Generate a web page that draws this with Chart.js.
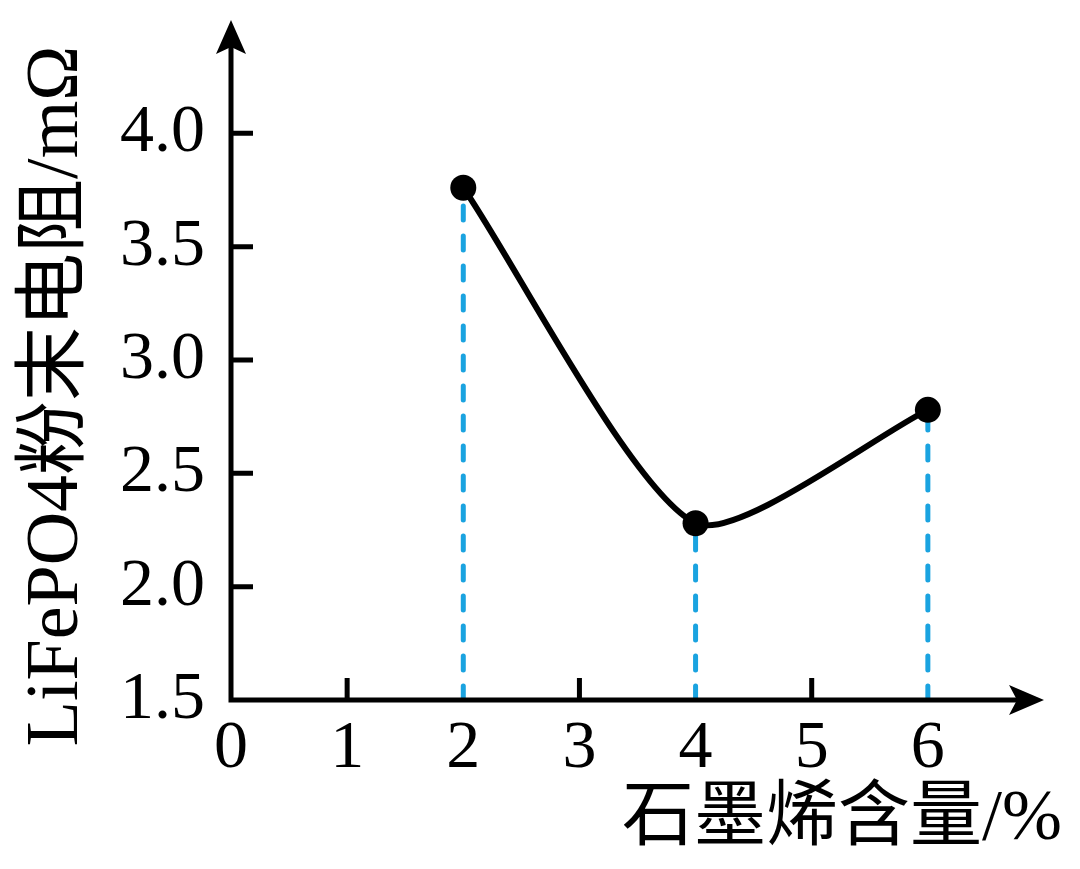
<!DOCTYPE html>
<html>
<head>
<meta charset="utf-8">
<script src="https://cdn.jsdelivr.net/npm/chart.js@4"></script>
<style>
  html, body { margin: 0; padding: 0; background: #fff; }
  #wrap { width: 1080px; height: 869px; }
</style>
</head>
<body>
<div id="wrap"><canvas id="chart"></canvas></div>
<script>
'use strict';

// 石墨烯含量 (%) 和 粉末电阻 (mΩ)
var content = [2, 4, 6];
var resistance = [3.76, 2.28, 2.78];

// 坐标轴刻度
var xTicks = [0, 1, 2, 3, 4, 5, 6];
var yTicks = [1.5, 2.0, 2.5, 3.0, 3.5, 4.0];
var xMarks = [1, 3, 5];          // 轴上的小刻度线 (2,4,6 被虚线盖住)
var yMarks = [2.0, 2.5, 3.0, 3.5, 4.0];

var xTitle = '石墨烯含量/%';
var yTitle = 'LiFePO4粉末电阻/mΩ';

var serif = '"Liberation Serif", "Noto Sans CJK SC", serif';

// 主曲线
var mainData = content.map(function (x, i) { return { x: x, y: resistance[i] }; });

// 每个点往下画虚线到x轴
var dropSets = content.map(function (x, i) {
	return {
		data: [{ x: x, y: yTicks[0] }, { x: x, y: resistance[i] }],
		borderColor: '#1aa3e0',
		borderWidth: 5,
		borderDash: [14, 16],
		borderCapStyle: 'round',
		pointRadius: 0,
		tension: 0,
		order: 2
	};
});

// 画坐标轴, 箭头, 刻度线, 轴标题
var axesPlugin = {
	id: 'axesPlugin',
	afterDraw: function (chart) {
		var ctx = chart.ctx;
		var xs = chart.scales.x;
		var ys = chart.scales.y;
		var x0 = xs.getPixelForValue(xTicks[0]);
		var y0 = ys.getPixelForValue(yTicks[0]);
		var top = chart.chartArea.top;
		var right = chart.chartArea.right;

		ctx.save();
		ctx.strokeStyle = '#000';
		ctx.fillStyle = '#000';
		ctx.lineWidth = 5;
		ctx.lineCap = 'butt';

		ctx.beginPath();
		ctx.moveTo(x0, y0 + 2.5);
		ctx.lineTo(x0, top + 25);
		ctx.moveTo(x0 - 2.5, y0);
		ctx.lineTo(right - 25, y0);
		ctx.stroke();

		// 小刻度线
		ctx.beginPath();
		xMarks.forEach(function (v) {
			var px = xs.getPixelForValue(v);
			ctx.moveTo(px, y0);
			ctx.lineTo(px, y0 - 22);
		});
		yMarks.forEach(function (v) {
			var py = ys.getPixelForValue(v);
			ctx.moveTo(x0, py);
			ctx.lineTo(x0 + 22, py);
		});
		ctx.stroke();

		// y轴箭头
		ctx.beginPath();
		ctx.moveTo(x0, top);
		ctx.lineTo(x0 + 15, top + 34);
		ctx.lineTo(x0, top + 27);
		ctx.lineTo(x0 - 15, top + 34);
		ctx.closePath();
		ctx.fill();

		// x轴箭头
		ctx.beginPath();
		ctx.moveTo(right, y0);
		ctx.lineTo(right - 35, y0 - 15);
		ctx.lineTo(right - 27, y0);
		ctx.lineTo(right - 35, y0 + 15);
		ctx.closePath();
		ctx.fill();

		// 轴标题
		ctx.font = '72px ' + serif;
		ctx.textAlign = 'right';
		ctx.textBaseline = 'middle';
		ctx.fillText(xTitle, 1062, 820);

		ctx.translate(58, 396);
		ctx.rotate(-Math.PI / 2);
		ctx.textAlign = 'center';
		ctx.font = '74px ' + serif;
		ctx.fillText(yTitle, 0, 0);
		ctx.restore();
	}
};

function noPad(s) {
	s.paddingTop = 0;
	s.paddingBottom = 0;
	s.paddingLeft = 0;
	s.paddingRight = 0;
}

window.onload = function () {
	var ctx = document.getElementById('chart');
	new Chart(ctx, {
		type: 'line',
		data: {
			datasets: [{
				data: mainData,
				borderColor: '#000',
				borderWidth: 6,
				tension: 0.22,
				pointRadius: 13,
				pointBorderWidth: 0,
				pointBackgroundColor: '#000',
				pointBorderColor: '#000',
				order: 1
			}].concat(dropSets)
		},
		options: {
			responsive: true,
			maintainAspectRatio: false,
			animation: false,
			events: [],
			layout: { padding: { top: 20, right: 36, left: 0, bottom: 0 } },
			plugins: {
				legend: { display: false },
				tooltip: { enabled: false }
			},
			scales: {
				x: {
					type: 'linear',
					min: 0,
					max: 7,
					afterBuildTicks: function (s) {
						s.ticks = xTicks.map(function (v) { return { value: v }; });
					},
					afterFit: function (s) { s.height = 169; noPad(s); },
					grid: { display: false, drawTicks: false },
					border: { display: false },
					ticks: {
						padding: 8,
						color: '#000',
						font: { family: serif, size: 68 },
						maxRotation: 0,
						callback: function (v) { return String(v); }
					}
				},
				y: {
					type: 'linear',
					min: 1.5,
					max: 4.5,
					afterBuildTicks: function (s) {
						s.ticks = yTicks.map(function (v) { return { value: v }; });
					},
					afterFit: function (s) { s.width = 231; noPad(s); },
					grid: { display: false, drawTicks: false },
					border: { display: false },
					ticks: {
						padding: 26,
						color: '#000',
						font: { family: serif, size: 68 },
						callback: function (v) { return Number(v).toFixed(1); }
					}
				}
			}
		},
		plugins: [axesPlugin]
	});
};
</script>
</body>
</html>
